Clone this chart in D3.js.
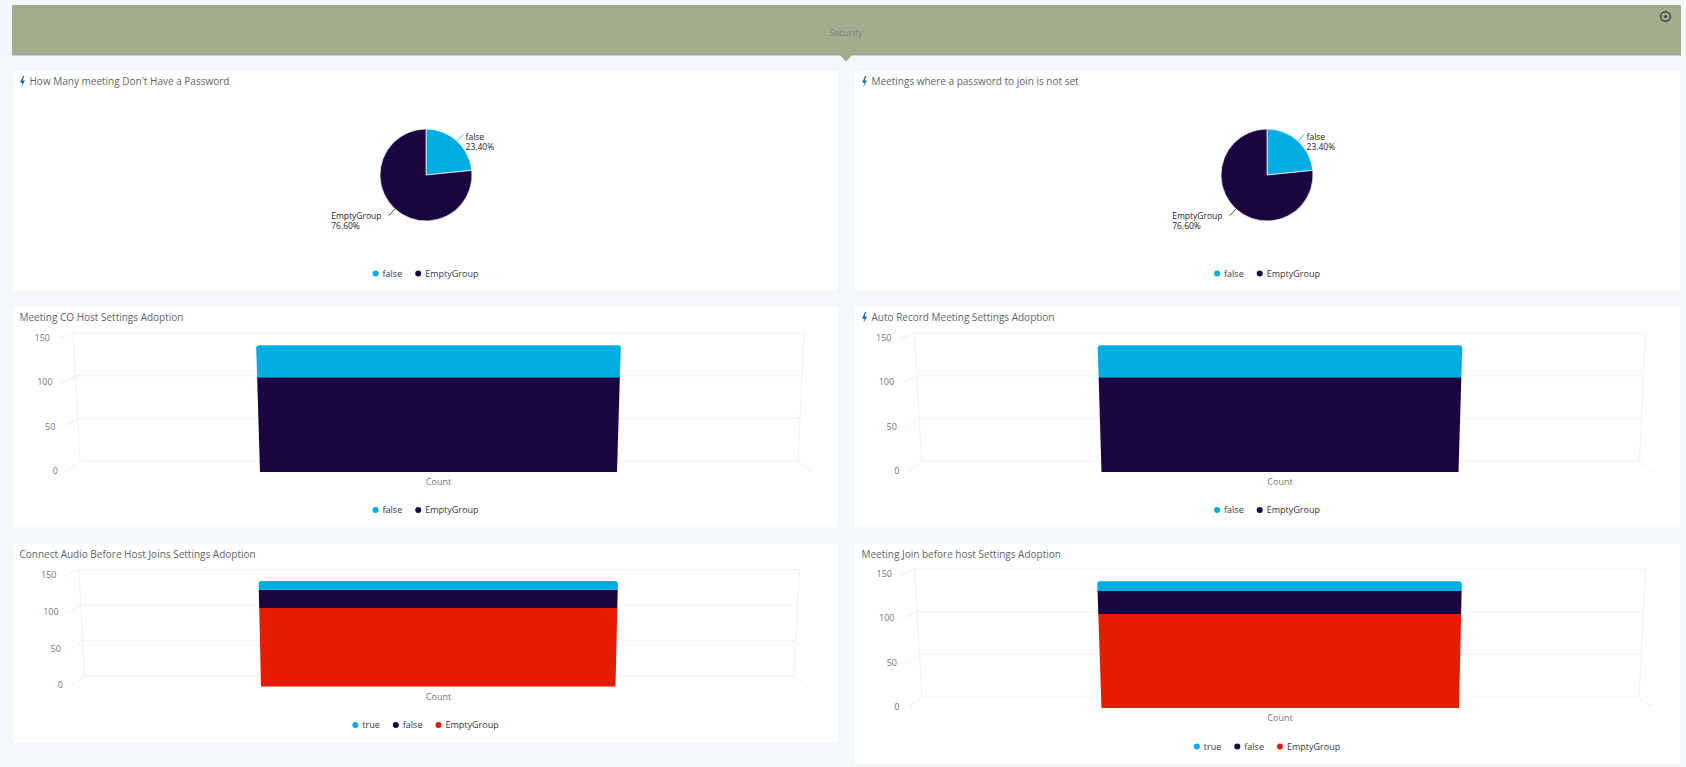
<!DOCTYPE html>
<html>
<head>
<meta charset="utf-8">
<title>Security</title>
<script src="https://cdnjs.cloudflare.com/ajax/libs/d3/7.8.5/d3.min.js"></script>
<style>
    html, body { margin: 0; padding: 0; background: #f5f8fa; }
    svg { display: block; font-family: "Open Sans", sans-serif; }
    .title { font-size: 10px; fill: #5f6468; }
    .tick text { font-size: 9px; fill: #6e7378; }
    .legend text { font-size: 9px; font-weight: 500; fill: #33383c; }
    .pielabel { font-size: 8.5px; font-weight: 400; fill: #202326; }
    .count { font-size: 9px; fill: #6e7378; text-anchor: middle; }
    .grid { stroke: #eff1f3; fill: none; }
</style>
</head>
<body>
<svg class="chart" width="1686" height="767"></svg>
<script>

// Values.
var pieKeys = ["false", "EmptyGroup"];
var pieValues = [23.4, 76.6];

var twoKeys = ["false", "EmptyGroup"];
var twoValues = [36, 107];

var threeKeys = ["true", "false", "EmptyGroup"];
var audioValues = [12, 25, 107];
var joinValues = [11, 26, 106];

var yTicks = [0, 50, 100, 150];

var colors = { "true": "#00ade1", "false": "#00ade1", "EmptyGroup": "#1a0541" };
var threeColors = { "true": "#00ade1", "false": "#1a0541", "EmptyGroup": "#e31c02" };

var svgElement = d3.select("svg.chart");

svgElement.append("rect") // The banner on top.
    .attr("x", 12).attr("y", 5)
    .attr("width", 1669).attr("height", 50.5)
    .attr("fill", "#a3ab8d");

svgElement.append("path")
    .attr("d", "M840,55L852,55L846,61.5Z")
    .attr("fill", "#a3ab8d");

svgElement.append("text")
    .attr("x", 846).attr("y", 36)
    .attr("text-anchor", "middle")
    .attr("font-size", 9)
    .attr("fill", "#7d8470")
    .text("Security");

svgElement.append("circle") // Settings icon.
    .attr("cx", 1665.5).attr("cy", 16.5).attr("r", 4.8)
    .attr("fill", "none").attr("stroke", "#3d4143").attr("stroke-width", 1.4);
svgElement.append("circle")
    .attr("cx", 1665.5).attr("cy", 16.5).attr("r", 1.5)
    .attr("fill", "#3d4143");

function addPanel (x, y, width, height, title, bolt) { // White card with its title.
    var panel = svgElement.append("g");
    panel.append("rect")
        .attr("x", x).attr("y", y)
        .attr("width", width).attr("height", height)
        .attr("fill", "#ffffff")
        .attr("stroke", "#f0f3f5")
        .attr("stroke-width", 1);
    if (bolt) {
        panel.append("path")
            .attr("transform", "translate(" + (x + 8) + "," + (y + 11.5) + ") scale(1.2)")
            .attr("d", "M2.5,-4.5L0,1L2,1L1,4.8L4.2,-0.8L2.2,-0.8L3.6,-4.5Z")
            .attr("fill", "#1f6f94");
    }
    panel.append("text")
        .attr("class", "title")
        .attr("x", x + (bolt ? 17.5 : 7.5))
        .attr("y", y + 15)
        .text(title);
    return panel;
};

function addLegend (panel, keys, colorMap, centerX, y) { // Centered row of dots and names.
    var legend = panel.append("g").attr("class", "legend");
    var items = legend.selectAll("g")
        .data(keys)
        .enter()
        .append("g");
    items.append("circle")
        .attr("r", 3)
        .attr("cy", 0)
        .attr("fill", d => colorMap[d]);
    items.append("text")
        .attr("x", 7)
        .attr("y", 3.2)
        .text(d => d);
    var gap = 13;
    var total = 0;
    items.each(function () {
        total += d3.select(this).select("text").node().getComputedTextLength() + 7 + 3 + gap;
    });
    var cursor = centerX - (total - gap) / 2 + 3;
    items.attr("transform", function () {
        var pos = cursor;
        cursor += this.querySelector("text").getComputedTextLength() + 7 + 3 + gap;
        return "translate(" + pos + "," + y + ")";
    });
};

function addPie (panel, cx, cy, radius) {
    var total = d3.sum(pieValues);
    var slices = d3.pie().sort(null)(pieValues);
    var arc = d3.arc().innerRadius(0).outerRadius(radius);
    var group = panel.append("g").attr("transform", "translate(" + cx + "," + cy + ")");

    group.selectAll("path.slice")
        .data(slices)
        .enter()
        .append("path")
        .attr("class", "slice")
        .attr("d", arc)
        .attr("fill", (d, i) => colors[pieKeys[i]])
        .attr("stroke", "#ffffff")
        .attr("stroke-width", 0.7);

    slices.forEach(function (slice, i) { // Leader line and label from the middle of each slice.
        var mid = (slice.startAngle + slice.endAngle) / 2;
        var sx = Math.sin(mid), sy = -Math.cos(mid);
        var x0 = sx * radius, y0 = sy * radius;
        var x1 = sx * (radius + 10), y1 = sy * (radius + 9);
        group.append("path")
            .attr("d", "M" + x0 + "," + y0 + "L" + x1 + "," + y1)
            .attr("fill", "none")
            .attr("stroke", colors[pieKeys[i]])
            .attr("stroke-width", 0.8);

        var label = group.append("text").attr("class", "pielabel");
        label.append("tspan").text(pieKeys[i]);
        label.append("tspan").text((pieValues[i] / total * 100).toFixed(2) + "%");
        var width = d3.max(label.selectAll("tspan").nodes(), n => n.getComputedTextLength());
        var textX = sx > 0 ? x1 + 2 : x1 - width - 7;
        var textY = sx > 0 ? y1 + 5.5 : y1 + 3;
        label.selectAll("tspan")
            .attr("x", textX)
            .attr("y", (d, j) => textY + j * 10.5);
    });
};

function addBars (panel, opts) { // Stacked column on a slanted 3D-like frame.
    var yBack = d3.scaleLinear().domain([0, 150]).range([opts.back0, opts.back150]);
    var yFront = d3.scaleLinear().domain([0, 150]).range([opts.front0, opts.front150]);
    var wallLeft = d3.scaleLinear().domain([0, 150]).range([opts.wallLeft0, opts.wallLeft150]);
    var wallRight = d3.scaleLinear().domain([0, 150]).range([opts.wallRight0, opts.wallRight150]);
    var stubLeft = d3.scaleLinear().domain([0, 150]).range([opts.stubLeft0, opts.stubLeft150]);
    var barLeft = d3.scaleLinear().domain([0, 150]).range([opts.barLeft0, opts.barLeft150]);
    var barRight = d3.scaleLinear().domain([0, 150]).range([opts.barRight0, opts.barRight150]);

    var grid = panel.append("g").attr("class", "grid");
    yTicks.forEach(function (t) {
        grid.append("path")
            .attr("d", "M" + stubLeft(t) + "," + yFront(t) + "L" + wallLeft(t) + "," + yBack(t) + "L" + wallRight(t) + "," + yBack(t));
    });
    grid.append("path").attr("d", "M" + wallLeft(0) + "," + yBack(0) + "L" + wallLeft(150) + "," + yBack(150));
    grid.append("path").attr("d", "M" + wallRight(0) + "," + yBack(0) + "L" + wallRight(150) + "," + yBack(150));
    grid.append("path").attr("d", "M" + wallRight(0) + "," + yBack(0) + "L" + opts.stubRight0 + "," + yFront(0));

    var axis = d3.axisLeft(yFront).tickValues(yTicks).tickSize(0);
    var axisGroup = panel.append("g").call(axis)
        .attr("font-family", null)
        .attr("font-size", null);
    axisGroup.select(".domain").remove();
    axisGroup.selectAll(".tick")
        .attr("transform", d => "translate(" + (stubLeft(d) - 8) + "," + (yFront(d) - 1) + ")");
    axisGroup.selectAll(".tick text")
        .attr("x", 0);

    var row = {};
    opts.keys.forEach(function (k, i) { row[k] = opts.values[i]; });
    var stacked = d3.stack().keys(opts.keys.slice().reverse())([row]);

    panel.selectAll("path.bar")
        .data(stacked)
        .enter()
        .append("path")
        .attr("class", "bar")
        .attr("fill", d => opts.colorMap[d.key])
        .attr("d", function (d, i) {
            var v0 = d[0][0], v1 = d[0][1];
            var p = d3.path();
            var r = i === stacked.length - 1 ? 3 : 0; // Only the top segment has rounded corners.
            p.moveTo(barLeft(v0), yFront(v0));
            p.lineTo(barLeft(v1), yFront(v1) + r);
            p.quadraticCurveTo(barLeft(v1), yFront(v1), barLeft(v1) + r, yFront(v1));
            p.lineTo(barRight(v1) - r, yFront(v1));
            p.quadraticCurveTo(barRight(v1), yFront(v1), barRight(v1), yFront(v1) + r);
            p.lineTo(barRight(v0), yFront(v0));
            p.closePath();
            return p.toString();
        });

    panel.append("text")
        .attr("class", "count")
        .attr("x", opts.countX)
        .attr("y", opts.front0 + 13)
        .text("Count");
};

// Row 1: pies
var pieA = addPanel(12, 70, 827, 222, "How Many meeting Don't Have a Password", true);
addPie(pieA, 426, 175, 46);
addLegend(pieA, pieKeys, colors, 425.5, 273.5);

var pieB = addPanel(854, 70, 827, 222, "Meetings where a password to join is not set", true);
addPie(pieB, 1267, 175, 46);
addLegend(pieB, pieKeys, colors, 1267, 273.5);

// Row 2: two-part columns
var coHost = addPanel(12, 306, 827, 222, "Meeting CO Host Settings Adoption", false);
addBars(coHost, {
    keys: twoKeys, values: twoValues, colorMap: colors,
    back0: 461, back150: 333, front0: 472, front150: 339,
    wallLeft0: 80, wallLeft150: 73, wallRight0: 798, wallRight150: 804,
    stubLeft0: 66, stubLeft150: 58, stubRight0: 812,
    barLeft0: 260, barLeft150: 256, barRight0: 617, barRight150: 621,
    countX: 438.5
});
addLegend(coHost, twoKeys, colors, 425.5, 510);

var autoRecord = addPanel(854, 306, 827, 222, "Auto Record Meeting Settings Adoption", true);
addBars(autoRecord, {
    keys: twoKeys, values: twoValues, colorMap: colors,
    back0: 461, back150: 333, front0: 472, front150: 339,
    wallLeft0: 921.5, wallLeft150: 914.5, wallRight0: 1639.5, wallRight150: 1645.5,
    stubLeft0: 907.5, stubLeft150: 899.5, stubRight0: 1653.5,
    barLeft0: 1101.5, barLeft150: 1097.5, barRight0: 1458.5, barRight150: 1462.5,
    countX: 1280
});
addLegend(autoRecord, twoKeys, colors, 1267, 510);

// Row 3: three-part columns
var audio = addPanel(12, 543, 827, 200, "Connect Audio Before Host Joins Settings Adoption", false);
addBars(audio, {
    keys: threeKeys, values: audioValues, colorMap: threeColors,
    back0: 676, back150: 569.5, front0: 686.5, front150: 576.5,
    wallLeft0: 84.5, wallLeft150: 79, wallRight0: 794, wallRight150: 799.5,
    stubLeft0: 71, stubLeft150: 64.5, stubRight0: 807.5,
    barLeft0: 261, barLeft150: 258.5, barRight0: 615.5, barRight150: 618,
    countX: 438.5
});
addLegend(audio, threeKeys, threeColors, 425.5, 725);

var joinBefore = addPanel(854, 543, 827, 222, "Meeting Join before host Settings Adoption", false);
addBars(joinBefore, {
    keys: threeKeys, values: joinValues, colorMap: threeColors,
    back0: 697, back150: 569, front0: 708, front150: 575,
    wallLeft0: 922, wallLeft150: 914.5, wallRight0: 1639, wallRight150: 1645.5,
    stubLeft0: 907.5, stubLeft150: 900, stubRight0: 1653,
    barLeft0: 1101.5, barLeft150: 1097, barRight0: 1459, barRight150: 1462,
    countX: 1280
});
addLegend(joinBefore, threeKeys, threeColors, 1267, 746.5);

</script>
</body>
</html>
